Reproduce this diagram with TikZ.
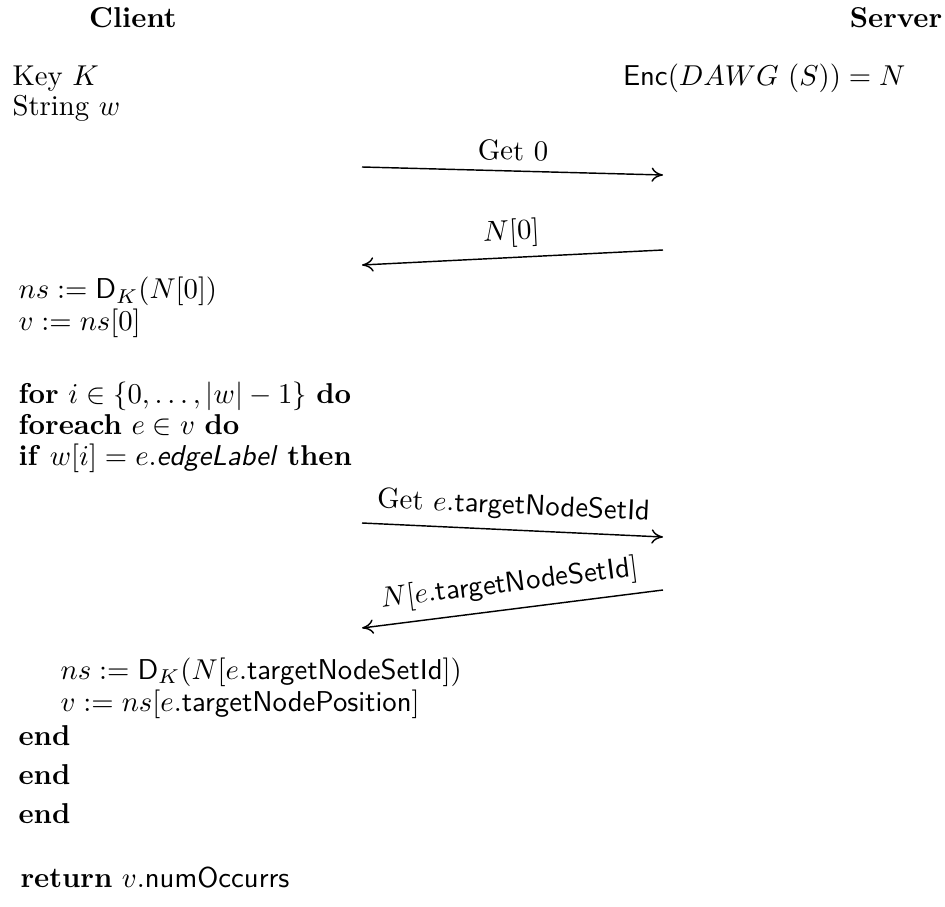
\documentclass[tikz,border=0pt]{standalone}
\usetikzlibrary{arrows.meta}
\begin{document}
\begin{tikzpicture}[x=0.3484pt,y=-0.3484pt,
  txt/.style={inner sep=0pt,anchor=base west},
  hdr/.style={inner sep=0pt,anchor=base,font=\bfseries},
  msg/.style={-{To[length=4pt,width=5pt]},line width=0.5pt},
  lbl/.style={midway,above,sloped,inner sep=3.33pt}]
\useasboundingbox (0,0) rectangle (945,907);
\node[hdr] (client) at (133,28) {Client};
\node[hdr] (server) at (896,28) {Server};
\node[txt] (key) at (12,86) {Key $K$};
\node[txt] (str) at (12,116) {String $w$};
\node[inner sep=0pt,anchor=base east] (enc) at (906,86) {$\mathsf{Enc}(DAWG\ (S)) = N$};
\coordinate (a1s) at (362,167);
\coordinate (a1e) at (663,175);
\draw[msg] (a1s) -- (a1e) node[lbl] {Get $0$};
\coordinate (a2s) at (663,250);
\coordinate (a2e) at (362,265);
\draw[msg] (a2s) -- (a2e) node[lbl] {$N[0]$};
\node[txt] (l1) at (18,299) {$ns := \mathsf{D}_K(N[0])$};
\node[txt] (l2) at (18,331) {$v := ns[0]$};
\node[txt] (l3) at (18,403) {\textbf{for} $i \in \{0,\ldots,|w|-1\}$ \textbf{do}};
\node[txt] (l4) at (18,434) {\textbf{foreach} $e \in v$ \textbf{do}};
\node[txt] (l5) at (18,465) {\textbf{if} $w[i] = e.\textsf{\textit{edgeLabel}}$ \textbf{then}};
\coordinate (a3s) at (362,523);
\coordinate (a3e) at (663,537);
\draw[msg] (a3s) -- (a3e) node[lbl] {Get $e.\textsf{targetNodeSetId}$};
\coordinate (a4s) at (663,590);
\coordinate (a4e) at (362,628);
\draw[msg] (a4s) -- (a4e) node[lbl] {$N[e.\textsf{targetNodeSetId}]$};
\node[txt] (l6) at (60,679) {$ns := \mathsf{D}_K(N[e.\textsf{targetNodeSetId}])$};
\node[txt] (l7) at (60,711) {$v := ns[e.\textsf{targetNodePosition}]$};
\node[txt] (e1) at (18,745) {\textbf{end}};
\node[txt] (e2) at (18,784) {\textbf{end}};
\node[txt] (e3) at (18,823) {\textbf{end}};
\node[txt] (ret) at (20,887) {\textbf{return} $v.\textsf{numOccurrs}$};
\end{tikzpicture}
\end{document}
